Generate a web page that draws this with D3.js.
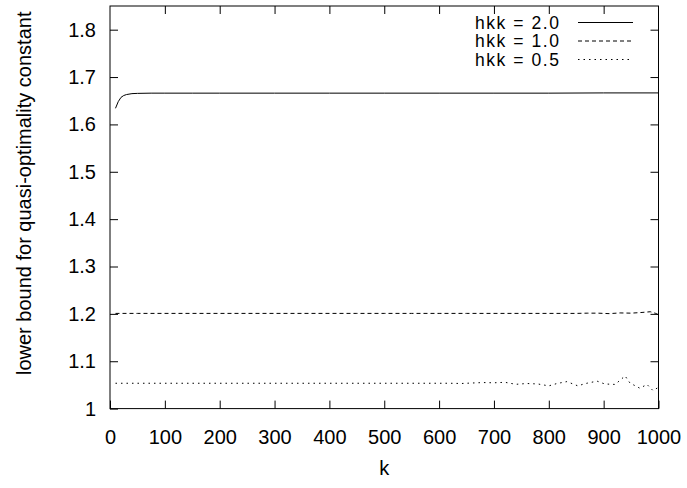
<!DOCTYPE html>
<html>
<head>
<meta charset="utf-8">
<script src="https://cdn.jsdelivr.net/npm/d3@7"></script>
<style>
  html, body { margin: 0; padding: 0; background: #fff; }
  svg { display: block; }
  text { font-family: "Liberation Sans", Arial, Helvetica, sans-serif; fill: #000; }
</style>
</head>
<body>
<svg id="chart" width="687" height="488"></svg>
<script>
// ---- data ----
const xTicks = [0, 100, 200, 300, 400, 500, 600, 700, 800, 900, 1000];
const yTicks = [1, 1.1, 1.2, 1.3, 1.4, 1.5, 1.6, 1.7, 1.8];
const yTickLabels = ["1", "1.1", "1.2", "1.3", "1.4", "1.5", "1.6", "1.7", "1.8"];
const seriesNames = ["hkk = 2.0", "hkk = 1.0", "hkk = 0.5"];

const k20 = [10, 15, 20, 25, 30, 40, 50, 75, 100, 150, 200, 300, 400, 500, 600, 700, 800, 900, 1000];
const v20 = [1.634, 1.648, 1.657, 1.661, 1.663, 1.665, 1.6655, 1.666, 1.666, 1.666, 1.666, 1.666, 1.666, 1.666, 1.666, 1.666, 1.666, 1.6665, 1.6665];

const k10 = [10, 50, 100, 150, 200, 250, 300, 350, 400, 450, 500, 550, 600, 650, 700, 750, 800, 850, 870, 890, 910, 930, 950, 970, 985, 995, 1000];
const v10 = [1.201, 1.201, 1.201, 1.201, 1.201, 1.201, 1.201, 1.201, 1.201, 1.201, 1.201, 1.201, 1.201, 1.201, 1.201, 1.201, 1.201, 1.201, 1.2015, 1.2015, 1.2005, 1.202, 1.2015, 1.203, 1.2045, 1.201, 1.198];

const k05 = [10, 50, 100, 150, 200, 250, 300, 350, 400, 450, 500, 550, 600, 620, 640, 660, 680, 700, 720, 740, 760, 780, 800, 815, 833, 853, 866, 888, 902, 921, 939, 948, 966, 979, 990, 1000];
const v05 = [1.0535, 1.0535, 1.0535, 1.0535, 1.0535, 1.0535, 1.0535, 1.0535, 1.0535, 1.0535, 1.0535, 1.0535, 1.0535, 1.0535, 1.053, 1.054, 1.055, 1.0545, 1.0555, 1.0513, 1.053, 1.052, 1.048, 1.053, 1.057, 1.048, 1.0527, 1.058, 1.052, 1.051, 1.069, 1.054, 1.043, 1.051, 1.038, 1.045];

// ---- layout ----
const svg = d3.select("#chart");
const pL = 110, pR = 658.5, pT = 6, pB = 408.6;
const x = d3.scaleLinear().domain([0, 1000]).range([pL, pR]);
const y = d3.scaleLinear().domain([1, 1.85]).range([pB, pT]);
const fs = 20;

// frame
svg.append("rect")
  .attr("x", pL).attr("y", pT)
  .attr("width", pR - pL).attr("height", pB - pT)
  .attr("fill", "none").attr("stroke", "#000").attr("stroke-width", 1);

const tickLen = 8;
const gB = svg.append("g").attr("transform", `translate(0,${pB})`)
  .call(d3.axisBottom(x).tickValues(xTicks).tickSize(-tickLen).tickPadding(21).tickFormat(d3.format("d")));
const gT = svg.append("g").attr("transform", `translate(0,${pT})`)
  .call(d3.axisTop(x).tickValues(xTicks).tickSize(-tickLen).tickFormat(""));
const gL = svg.append("g").attr("transform", `translate(${pL},0)`)
  .call(d3.axisLeft(y).tickValues(yTicks).tickSize(-tickLen).tickPadding(14).tickFormat((d, i) => yTickLabels[i]));
const gR = svg.append("g").attr("transform", `translate(${pR},0)`)
  .call(d3.axisRight(y).tickValues(yTicks).tickSize(-tickLen).tickFormat(""));

[gB, gT, gL, gR].forEach(g => {
  g.select(".domain").remove();
  g.selectAll(".tick line").attr("stroke", "#000");
  g.selectAll("text").attr("font-size", fs).attr("font-family", "Liberation Sans, Arial, sans-serif").attr("fill", "#000");
});
gT.selectAll(".tick").filter(d => d === 0 || d === 1000).remove();
gR.selectAll(".tick").filter(d => d === 1).remove();

// axis labels
svg.append("text")
  .attr("x", (pL + pR) / 2).attr("y", 475)
  .attr("text-anchor", "middle").attr("font-size", fs)
  .text("k");
svg.append("text")
  .attr("transform", `translate(31,${(pT + pB) / 2 - 14}) rotate(-90)`)
  .attr("text-anchor", "middle").attr("font-size", fs)
  .text("lower bound for quasi-optimality constant");

// series
const series = [
  { name: seriesNames[0], k: k20, v: v20, dash: null },
  { name: seriesNames[1], k: k10, v: v10, dash: "4,3" },
  { name: seriesNames[2], k: k05, v: v05, dash: "1.5,4" }
];
const line = d3.line().x(d => x(d[0])).y(d => y(d[1]));
const plot = svg.append("g");
series.forEach(s => {
  const pts = s.k.map((kk, i) => [kk, s.v[i]]);
  plot.append("path")
    .datum(pts)
    .attr("d", line)
    .attr("fill", "none")
    .attr("stroke", "#000")
    .attr("stroke-width", 1)
    .attr("stroke-dasharray", s.dash);
});

// legend
const legY = [22.5, 41, 59.5];
series.forEach((s, i) => {
  svg.append("text")
    .attr("x", 559).attr("y", legY[i])
    .attr("dy", "0.35em")
    .attr("text-anchor", "end")
    .attr("font-size", 17.5)
    .attr("textLength", 84)
    .attr("lengthAdjust", "spacing")
    .text(s.name);
  svg.append("line")
    .attr("x1", 578).attr("x2", 633)
    .attr("y1", legY[i]).attr("y2", legY[i])
    .attr("stroke", "#000").attr("stroke-width", 1)
    .attr("stroke-dasharray", s.dash);
});
</script>
</body>
</html>
